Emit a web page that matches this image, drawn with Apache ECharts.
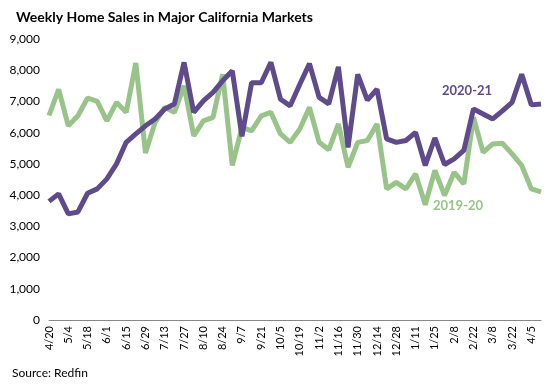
<!DOCTYPE html>
<html><head><meta charset="utf-8">
<script src="https://cdn.jsdelivr.net/npm/echarts@6/dist/echarts.min.js"></script>
<style>html,body{margin:0;padding:0;background:#fff}#c{width:549px;height:387px}</style>
</head><body><div id="c"></div>
<script>
const weeks = ['4/20','4/27','5/4','5/11','5/18','5/25','6/1','6/8','6/15','6/22','6/29','7/6','7/13','7/20','7/27','8/3','8/10','8/17','8/24','8/31','9/7','9/14','9/21','9/28','10/5','10/12','10/19','10/26','11/2','11/9','11/16','11/23','11/30','12/7','12/14','12/21','12/28','1/4','1/11','1/18','1/25','2/1','2/8','2/15','2/22','3/1','3/8','3/15','3/22','3/29','4/5','4/12'];
const sales2021 = [3800,4040,3400,3460,4060,4200,4520,5000,5690,5960,6220,6440,6760,6920,8250,6650,7020,7290,7660,7980,5880,7600,7600,8250,7070,6860,7550,8210,7130,6920,8110,5530,7870,7040,7390,5800,5690,5750,6010,4950,5830,4980,5160,5430,6760,6600,6440,6700,6970,7870,6890,6920];
const sales1920 = [6550,7390,6220,6540,7110,7000,6380,6970,6650,8230,5350,6330,6810,6650,7500,5900,6380,6490,7870,4950,6170,6060,6540,6650,5960,5690,6120,6810,5690,5450,6280,4890,5690,5750,6280,4200,4410,4200,4680,3690,4790,3990,4730,4360,6490,5370,5640,5660,5320,4950,4200,4100];
const yTicks = [0,1000,2000,3000,4000,5000,6000,7000,8000,9000];
const PURPLE = '#5f4b8b', GREEN = '#98c48a';
const FONT = 'Lato, "Open Sans", sans-serif';
const chart = echarts.init(document.getElementById('c'));
chart.setOption({
  animation: false,
  textStyle: {fontFamily: FONT},
  title: {text: 'Weekly Home Sales in Major California Markets', left: 11, top: 5,
    textStyle: {fontFamily: FONT, fontWeight: 'bold', fontSize: 14, color: '#000'}},
  grid: {left: 49, right: 8, top: 39, bottom: 67},
  xAxis: {type: 'category', data: weeks, boundaryGap: false,
    axisLine: {lineStyle: {color: '#888', width: 1}}, axisTick: {show: false},
    axisLabel: {rotate: 90, interval: 1, color: '#000', fontSize: 11, margin: 6, fontFamily: FONT}},
  yAxis: {type: 'value', min: yTicks[0], max: yTicks[yTicks.length-1], interval: 1000,
    splitLine: {show: false}, axisLine: {show: false}, axisTick: {show: false},
    axisLabel: {color: '#000', fontSize: 12, margin: 9, fontFamily: FONT,
      formatter: v => v.toLocaleString('en-US')}},
  series: [
    {name: '2019-20', type: 'line', data: sales1920, symbol: 'none', lineStyle: {color: GREEN, width: 5}, itemStyle: {color: GREEN}},
    {name: '2020-21', type: 'line', data: sales2021, symbol: 'none', lineStyle: {color: PURPLE, width: 5}, itemStyle: {color: PURPLE}}
  ],
  graphic: [
    {type: 'text', left: 442, top: 84, style: {text: '2020-21', fill: PURPLE, font: 'bold 13px ' + FONT}},
    {type: 'text', left: 433, top: 199, style: {text: '2019-20', fill: GREEN, font: 'bold 13px ' + FONT}},
    {type: 'text', left: 12, top: 367, style: {text: 'Source: Redfin', fill: '#000', font: '12px ' + FONT}}
  ]
});
</script></body></html>
